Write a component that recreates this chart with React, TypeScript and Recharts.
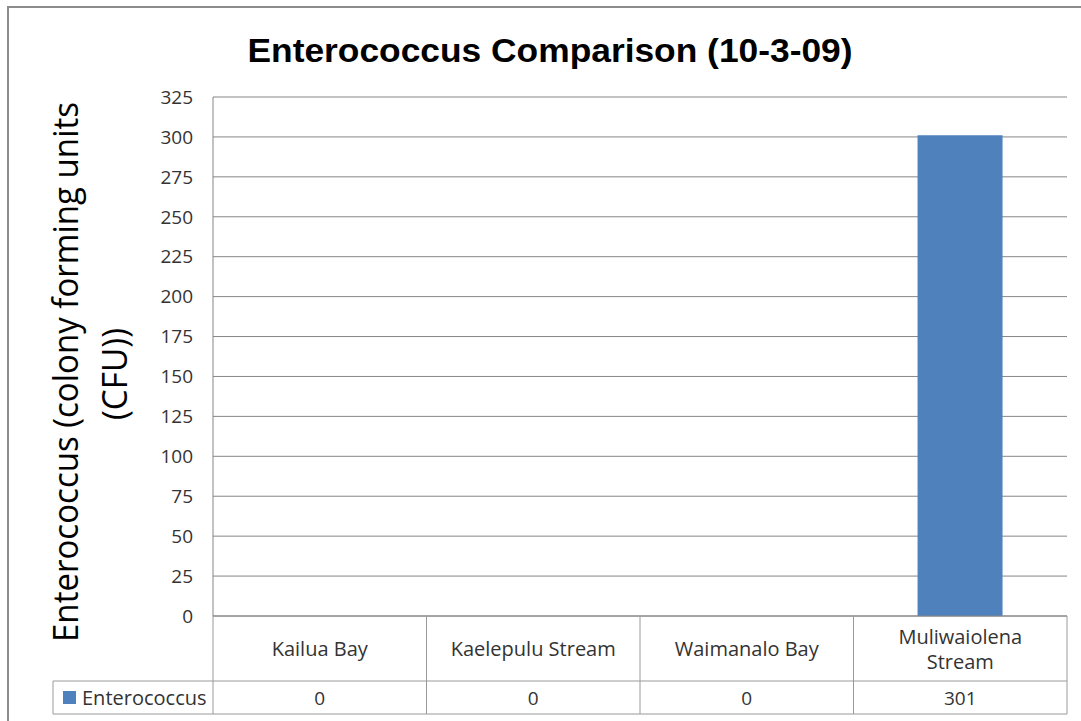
import React from 'react';
import { BarChart, Bar, XAxis, YAxis, CartesianGrid, Customized } from 'recharts';

const categories = ['Kailua Bay', 'Kaelepulu Stream', 'Waimanalo Bay', 'Muliwaiolena Stream'];
const enterococcus = [0, 0, 0, 301];
const yTicks = [0, 25, 50, 75, 100, 125, 150, 175, 200, 225, 250, 275, 300, 325];

const data = categories.map((name, i) => ({ name, value: enterococcus[i] }));

const W = 1081;
const H = 721;
const MARGIN = { top: 97, right: 14, bottom: 8, left: 53 };
const Y_AXIS_W = 160;
const X_AXIS_H = 97;
const PLOT_BOTTOM = H - MARGIN.bottom - X_AXIS_H;
const COL_W = (W - MARGIN.left - Y_AXIS_W - MARGIN.right) / categories.length;
const ROW1_END = PLOT_BOTTOM + 65;
const ROW2_END = ROW1_END + 33;

const FONT = '"Open Sans", "DejaVu Sans", sans-serif';
const LINE = '#9a9a9a';
const BLUE = '#4F81BD';

const TableTick = (props: any) => {
  const { x, payload } = props;
  const idx = payload.index;
  const label: string = payload.value;
  const left = x - COL_W / 2;
  const right = x + COL_W / 2;
  const lines = label.length > 17 ? label.split(' ') : [label];
  const mid = (PLOT_BOTTOM + ROW1_END) / 2;
  return (
    <g>
      <line x1={left} y1={PLOT_BOTTOM} x2={left} y2={ROW2_END} stroke={LINE} />
      {idx === categories.length - 1 && (
        <line x1={right} y1={PLOT_BOTTOM} x2={right} y2={ROW2_END} stroke={LINE} />
      )}
      <line x1={left} y1={ROW1_END} x2={right} y2={ROW1_END} stroke={LINE} />
      <line x1={left} y1={ROW2_END} x2={right} y2={ROW2_END} stroke={LINE} />
      {lines.map((t, i) => (
        <text
          key={i}
          x={x}
          y={mid + (i - (lines.length - 1) / 2) * 25}
          textAnchor="middle"
          dominantBaseline="central"
          fontFamily={FONT}
          fontSize={20}
          fill="#333"
        >
          {t}
        </text>
      ))}
      <text
        x={x}
        y={(ROW1_END + ROW2_END) / 2}
        textAnchor="middle"
        dominantBaseline="central"
        fontFamily={FONT}
        fontSize={19}
        fill="#333"
      >
        {enterococcus[idx]}
      </text>
    </g>
  );
};

const Decor = () => {
  const plotLeft = MARGIN.left + Y_AXIS_W;
  const cy = (ROW1_END + ROW2_END) / 2;
  return (
    <g>
      <rect x={8} y={7} width={1100} height={730} fill="none" stroke="#8c8c8c" strokeWidth={2} />
      <text
        x={550}
        y={62}
        textAnchor="middle"
        fontFamily='"Liberation Sans", Arial, sans-serif'
        fontWeight="bold"
        fontSize={34}
        textLength={605}
        lengthAdjust="spacingAndGlyphs"
        fill="#000"
      >
        Enterococcus Comparison (10-3-09)
      </text>
      <text
        transform="translate(78,372) rotate(-90)"
        textAnchor="middle"
        fontFamily={FONT}
        fontSize={35}
        textLength={540}
        lengthAdjust="spacingAndGlyphs"
        fill="#000"
      >
        Enterococcus (colony forming units
      </text>
      <text
        transform="translate(127,374) rotate(-90)"
        textAnchor="middle"
        fontFamily={FONT}
        fontSize={35}
        textLength={92}
        lengthAdjust="spacingAndGlyphs"
        fill="#000"
      >
        (CFU))
      </text>
      <line x1={MARGIN.left} y1={ROW1_END} x2={plotLeft} y2={ROW1_END} stroke={LINE} />
      <line x1={MARGIN.left} y1={ROW2_END} x2={plotLeft} y2={ROW2_END} stroke={LINE} />
      <line x1={MARGIN.left} y1={ROW1_END} x2={MARGIN.left} y2={ROW2_END} stroke={LINE} />
      <rect x={63} y={cy - 6.5} width={13} height={13} fill={BLUE} />
      <text x={82} y={cy} dominantBaseline="central" fontFamily={FONT} fontSize={20} fill="#333">
        Enterococcus
      </text>
    </g>
  );
};

export default function App() {
  return (
    <div style={{ position: 'absolute', left: 0, top: 0, width: W, height: H, background: '#fff' }}>
      <BarChart width={W} height={H} data={data} margin={MARGIN} barCategoryGap="30%">
        <CartesianGrid vertical={false} stroke="#868686" />
        <XAxis
          dataKey="name"
          height={X_AXIS_H}
          interval={0}
          tickLine={false}
          axisLine={{ stroke: '#868686' }}
          tick={<TableTick />}
        />
        <YAxis
          width={Y_AXIS_W}
          domain={[0, 325]}
          ticks={yTicks}
          interval={0}
          tickLine={false}
          tickSize={0}
          tickMargin={20}
          axisLine={{ stroke: '#868686' }}
          tick={{ fontFamily: FONT, fontSize: 19, fill: '#333' }}
        />
        <Bar dataKey="value" fill={BLUE} isAnimationActive={false} />
        <Customized component={Decor} />
      </BarChart>
    </div>
  );
}
